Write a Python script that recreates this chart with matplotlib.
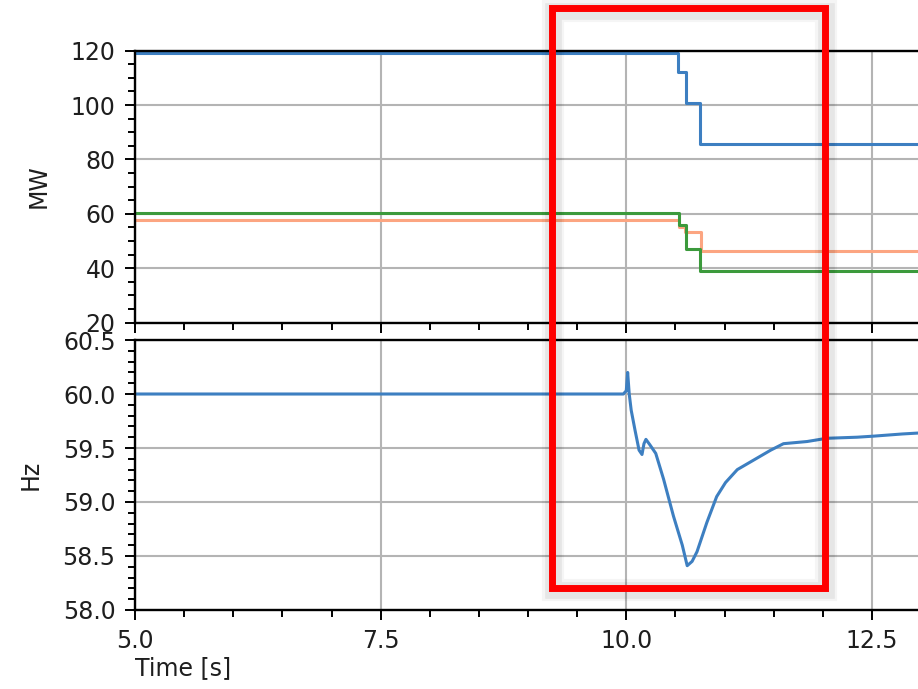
import matplotlib
matplotlib.use("Agg")
import matplotlib.pyplot as plt
from matplotlib.patches import Rectangle
from matplotlib.ticker import AutoMinorLocator, FormatStrFormatter

# MW step signals (value holds from each time until the next)
mw_t_blue = [5.0, 10.53, 10.61, 10.75, 13.0]
mw_blue = [119.2, 112.1, 100.6, 85.8, 85.8]

mw_t_green = [5.0, 10.54, 10.61, 10.75, 13.0]
mw_green = [60.2, 56.0, 46.9, 39.0, 39.0]

mw_t_orange = [5.0, 10.54, 10.60, 10.76, 13.0]
mw_orange = [57.8, 55.0, 53.2, 46.3, 46.3]

# frequency trace
hz_t = [5.0, 9.97, 10.0, 10.014, 10.03, 10.05, 10.09, 10.13, 10.16, 10.18,
        10.20, 10.24, 10.30, 10.38, 10.48, 10.57, 10.62, 10.67, 10.72, 10.82,
        10.92, 11.01, 11.13, 11.30, 11.47, 11.60, 11.84, 12.04, 12.35, 12.52,
        12.81, 13.0]
hz = [60.0, 60.0, 60.03, 60.2, 60.0, 59.85, 59.66, 59.48, 59.44, 59.54,
      59.58, 59.53, 59.45, 59.21, 58.87, 58.60, 58.41, 58.45, 58.54, 58.81,
      59.05, 59.18, 59.30, 59.39, 59.48, 59.54, 59.56, 59.59, 59.60, 59.61,
      59.63, 59.64]

mw_ticks = [20, 40, 60, 80, 100, 120]
hz_ticks = [58.0, 58.5, 59.0, 59.5, 60.0, 60.5]
time_ticks = [5.0, 7.5, 10.0, 12.5]

plt.rcParams['font.family'] = ['DejaVu Sans']
plt.rcParams['font.size'] = 17

fig = plt.figure(figsize=(9.18, 6.89), dpi=100)
ax1 = fig.add_axes([0.1471, 0.5319, 0.8562, 0.3945])
ax2 = fig.add_axes([0.1471, 0.1147, 0.8562, 0.3918])

ax1.step(mw_t_blue, mw_blue, where='post', color='#3d7fc1', lw=2.2)
ax1.step(mw_t_orange, mw_orange, where='post', color='#fca581', lw=2.2)
ax1.step(mw_t_green, mw_green, where='post', color='#3c9a3c', lw=2.2)
ax2.plot(hz_t, hz, color='#3d7fc1', lw=2.2)

ax1.set_ylim(20, 120)
ax1.set_yticks(mw_ticks)
ax2.set_ylim(58.0, 60.5)
ax2.set_yticks(hz_ticks)
ax2.yaxis.set_major_formatter(FormatStrFormatter('%.1f'))

for ax in (ax1, ax2):
    ax.set_xlim(5.0, 13.0)
    ax.set_xticks(time_ticks)
    ax.xaxis.set_minor_locator(AutoMinorLocator())
    ax.yaxis.set_minor_locator(AutoMinorLocator())
    ax.grid(True, which='major', color='#b4b4b4', lw=1.5)
    ax.tick_params(which='major', direction='out', length=7, width=1.4,
                   pad=7, labelcolor='#1e1e1e')
    ax.tick_params(which='minor', direction='out', length=5, width=1.4)
    for s in ax.spines.values():
        s.set_linewidth(1.7)

ax2.xaxis.set_major_formatter(FormatStrFormatter('%.1f'))
ax1.tick_params(labelbottom=False)

ax1.set_ylabel('MW', color='#1e1e1e')
ax1.yaxis.set_label_coords(-0.108, 0.5)
ax2.set_ylabel('Hz', color='#1e1e1e')
ax2.yaxis.set_label_coords(-0.118, 0.5)
ax2.set_xlabel('Time [s]', loc='left', color='#1e1e1e', labelpad=2)

# red highlight box with a soft shadow
x0, y0, x1, y1 = 0.6008, 0.1473, 0.8982, 0.9877
for lw, a in [(16, 0.04), (12, 0.06)]:
    fig.patches.append(Rectangle((x0 + 0.002, y0 - 0.003), x1 - x0, y1 - y0,
                                 transform=fig.transFigure, fill=False,
                                 ec='black', lw=lw, alpha=a))
fig.patches.append(Rectangle((x0, y0), x1 - x0, y1 - y0, transform=fig.transFigure,
                             fill=False, ec='#ff0000', lw=5))

fig.savefig('out.png', dpi=100)
